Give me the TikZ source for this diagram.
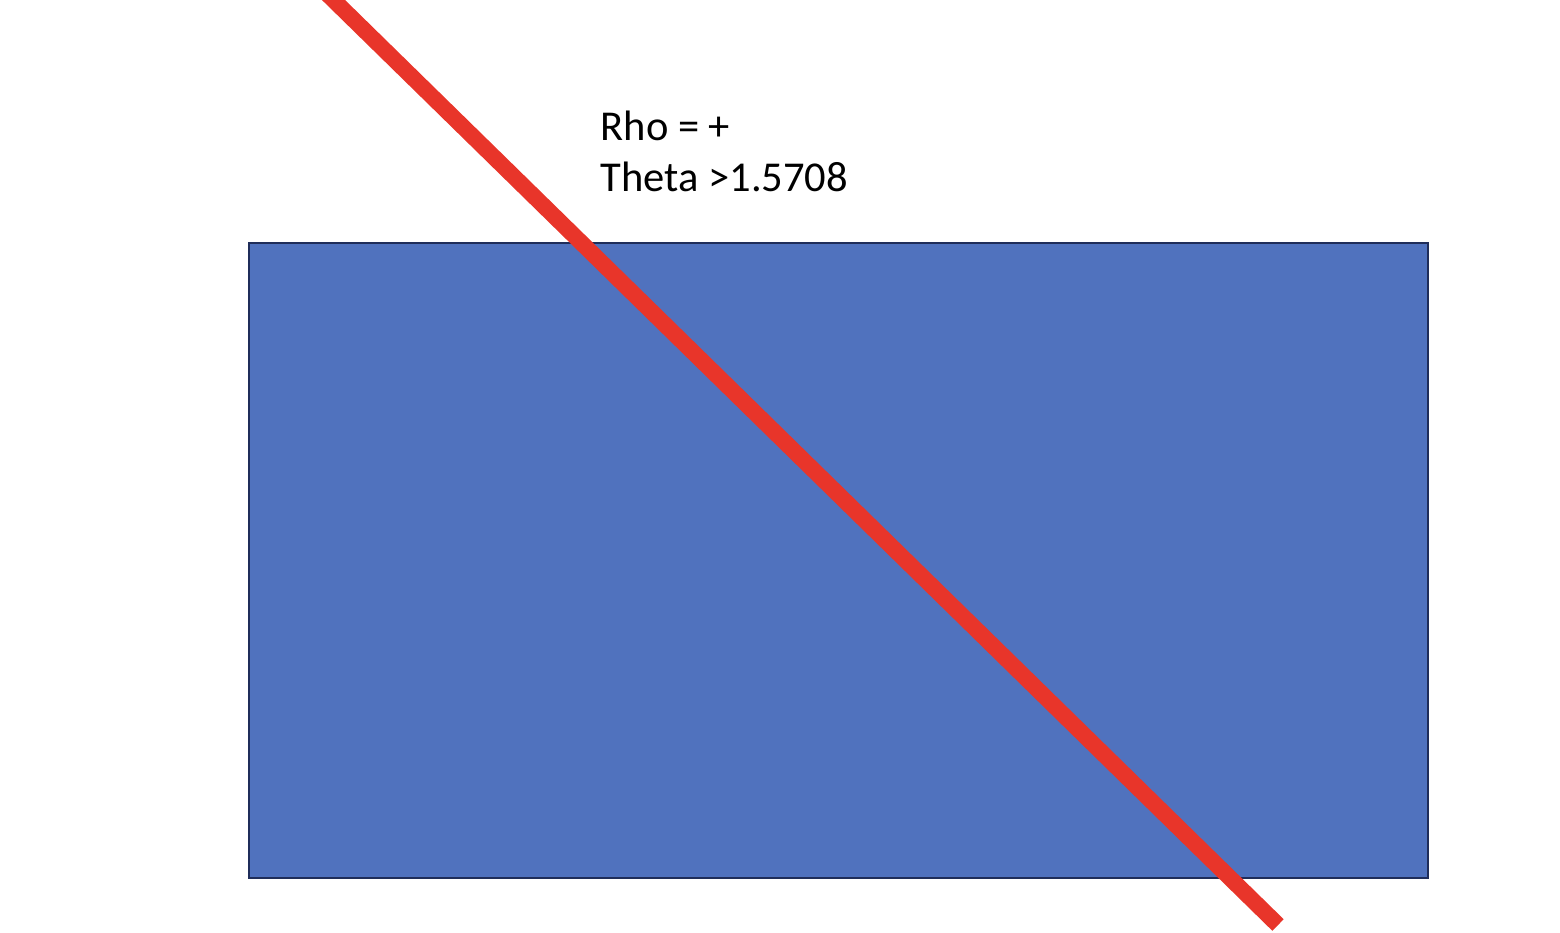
\documentclass[tikz,border=0pt]{standalone}
\usepackage{fontspec}
\setmainfont{Carlito}
\usetikzlibrary{calc}
\definecolor{boxblue}{HTML}{5072BE}
\definecolor{boxedge}{HTML}{1F2D5A}
\definecolor{linered}{HTML}{E8352A}
\tikzset{
  lbl/.style={anchor=base west,inner sep=0pt,font=\fontsize{12.1}{14.3}\selectfont},
  region/.style={fill=boxblue,draw=boxedge,line width=0.6pt},
  houghline/.style={draw=linered,line width=4.6pt}
}

\begin{document}
\begin{tikzpicture}
  % canvas: 1 cm = 100 px of the reference
  \useasboundingbox (0,0) rectangle (15.6,9.32);
  \clip (0,0) rectangle (15.6,9.32);
  % image region
  \draw[region] (2.49,0.54) rectangle (14.28,6.89);
  % line end points
  \coordinate (lstart) at (3.10,9.55);
  \coordinate (lend) at (12.78,0.07);
  \draw[houghline] (lstart) -- (lend);
  % labels
  \node[lbl] (rho) at (6.00,7.91) {Rho = +};
  \node[lbl] (theta) at (6.00,7.40) {Theta >1.5708};
\end{tikzpicture}
\end{document}
